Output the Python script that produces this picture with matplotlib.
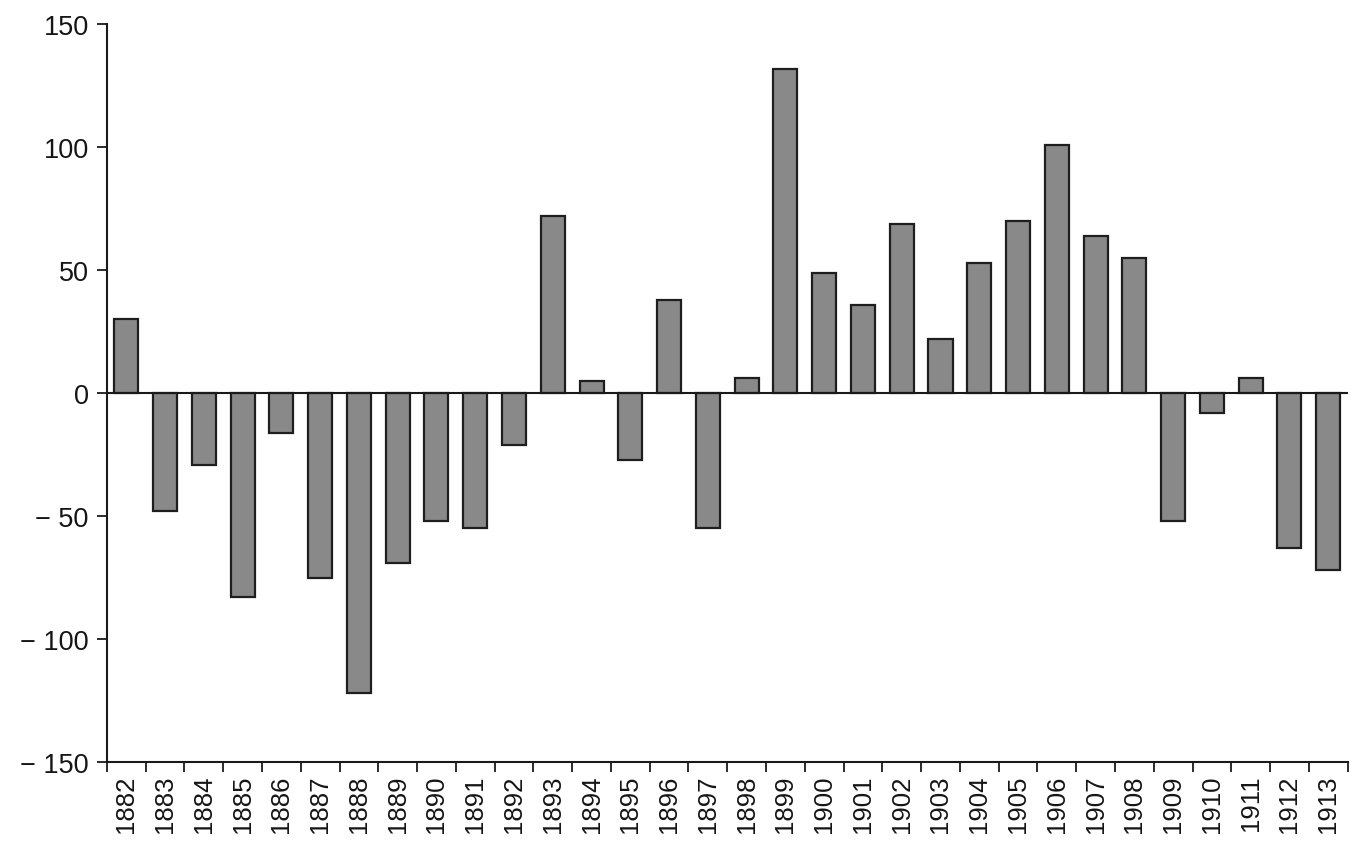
import numpy as np
import matplotlib.pyplot as plt
from matplotlib.ticker import FixedLocator

# Years and yearly values
years = list(range(1882, 1914))
values = [30, -48, -29, -83, -16, -75, -122, -69, -52, -55, -21,
          72, 5, -27, 38, -55, 6, 132, 49, 36, 69, 22, 53, 70,
          101, 64, 55, -52, -8, 6, -63, -72]
y_ticks = [-150, -100, -50, 0, 50, 100, 150]

plt.rcParams['font.family'] = ['Liberation Sans', 'DejaVu Sans']

fig = plt.figure(figsize=(13.53, 8.45), dpi=100)
ax = fig.add_axes([0.079, 0.097, 0.917, 0.873])

x = np.arange(len(years))
ax.bar(x, values, width=0.62, color='#898989', edgecolor='#1e1e1e', linewidth=1.6, zorder=2)
ax.axhline(0, color='#1a1a1a', linewidth=1.5, zorder=3)

ax.set_xlim(-0.5, len(years) - 0.5)
ax.set_ylim(-150, 150)

# ticks between bars, labels under each bar
ax.xaxis.set_major_locator(FixedLocator(np.arange(-0.5, len(years), 1.0)))
ax.xaxis.set_minor_locator(FixedLocator(x))
ax.set_xticklabels([])
ax.set_xticklabels([str(y) for y in years], minor=True, rotation=90, fontsize=18.5, color='#151515')
ax.tick_params(axis='x', which='major', direction='out', length=7, width=1.3, color='#1a1a1a')
ax.tick_params(axis='x', which='minor', length=0, pad=9)

ax.set_yticks(y_ticks)
ax.set_yticklabels([f'\u2212 {abs(v)}' if v < 0 else str(v) for v in y_ticks],
                   fontsize=19.5, color='#151515')
ax.tick_params(axis='y', direction='out', length=7, width=1.3, color='#1a1a1a', pad=6)

for side in ['top', 'right']:
    ax.spines[side].set_visible(False)
for side in ['left', 'bottom']:
    ax.spines[side].set_color('#1a1a1a')
    ax.spines[side].set_linewidth(1.5)

fig.savefig('out.png', dpi=100, facecolor='white')
